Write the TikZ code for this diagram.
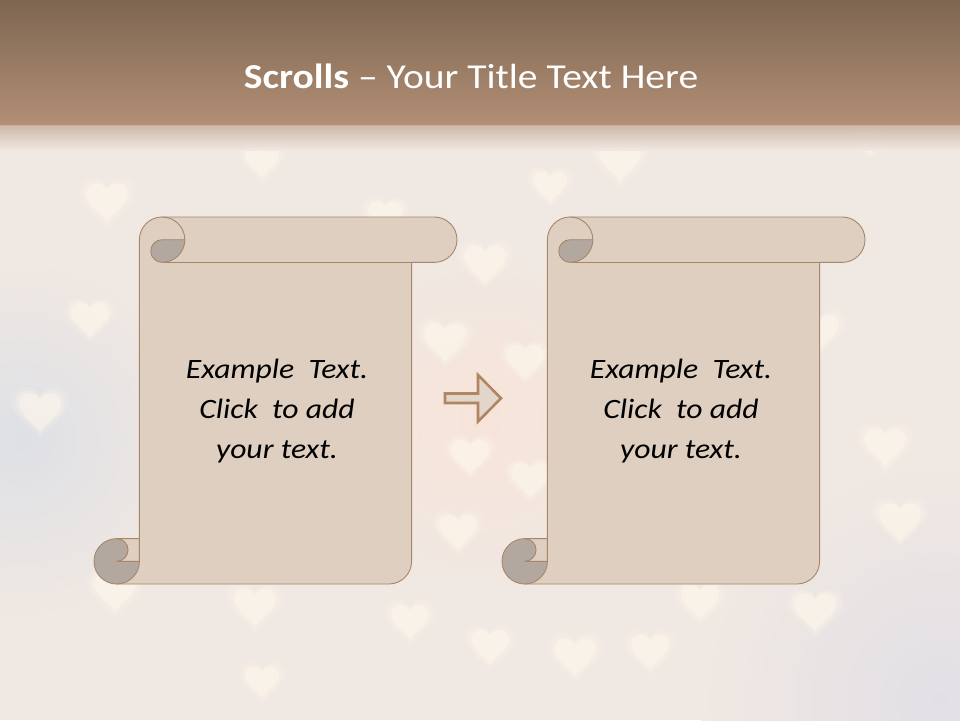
\documentclass[tikz,border=0pt]{standalone}
\usepackage{fontspec}
\setmainfont{Carlito}[FakeStretch=1.13]
\usepackage{tikz}
\definecolor{barTop}{RGB}{126,102,82}
\definecolor{barBottom}{RGB}{178,143,117}
\definecolor{backdrop}{RGB}{240,232,226}
\definecolor{heartGlow}{RGB}{255,249,236}
\definecolor{scrollFill}{RGB}{222,207,192}
\definecolor{scrollCurl}{RGB}{178,168,160}
\definecolor{scrollLine}{RGB}{168,134,104}
\definecolor{arrowLine}{RGB}{176,134,98}
\definecolor{arrowFill}{RGB}{226,213,201}
\tikzset{
    heart/.style={fill=heartGlow, draw=none},
    scrollbody/.style={fill=scrollFill},
    scrollcurl/.style={fill=scrollCurl},
    scrolledge/.style={draw=scrollLine, line width=0.9pt, line join=round},
    scrolltext/.style={align=center, font=\fontsize{28}{40}\selectfont\itshape, text=black, inner sep=0pt},
    titletext/.style={font=\fontsize{35}{42}\selectfont, text=white, inner sep=0pt},
    blockarrow/.style={draw=arrowLine, fill=arrowFill, line width=2.6pt, line join=miter}
}
\newcommand{\scrollshape}[1]{%
    \begin{scope}[shift={(#1)}]
        \fill[scrollbody] (22.7,367) arc[start angle=90, delta angle=-90, radius=22.7] -- (22.7,344.3)
            arc[start angle=90, delta angle=-180, radius=11.35] -- (45.4,321.6) -- (45.4,22.7)
            arc[start angle=180, delta angle=90, radius=22.7] -- (340.3,0)
            arc[start angle=270, delta angle=180, radius=22.7] -- (317.6,45.4) -- (317.6,344.3)
            arc[start angle=0, delta angle=90, radius=22.7] -- cycle;
        \fill[scrollcurl] (90.8,22.7) arc[start angle=0, delta angle=90, radius=22.7]
            arc[start angle=90, delta angle=180, radius=11.35] -- cycle;
        \fill[scrollcurl] (45.4,344.3) arc[start angle=0, delta angle=270, radius=22.7]
            arc[start angle=270, delta angle=180, radius=11.35] -- cycle;
        \draw[scrolledge] (45.4,321.6) -- (45.4,22.7) arc[start angle=180, delta angle=90, radius=22.7]
            -- (340.3,0) arc[start angle=270, delta angle=180, radius=22.7] -- (317.6,45.4) -- (317.6,344.3)
            arc[start angle=0, delta angle=90, radius=22.7] -- (22.7,367)
            arc[start angle=90, delta angle=180, radius=22.7] -- cycle;
        \draw[scrolledge] (68.1,0) arc[start angle=270, delta angle=180, radius=22.7]
            arc[start angle=90, delta angle=180, radius=11.35] -- (90.8,22.7);
        \draw[scrolledge] (317.6,45.4) -- (68.1,45.4);
        \draw[scrolledge] (22.7,321.6) arc[start angle=270, delta angle=180, radius=11.35] -- (45.4,344.3);
        \draw[scrolledge] (22.7,367) arc[start angle=90, delta angle=-90, radius=22.7] -- (45.4,321.6);
    \end{scope}}

\begin{document}
\begin{tikzpicture}[x=1pt, y=-1pt]
        \useasboundingbox (0,0) rectangle (960,720);
        \fill[backdrop] (0,0) rectangle (960,720);
        \shade[inner color={rgb,255:red,222;green,224;blue,230}, outer color=backdrop] (20,440) circle (180);
        \shade[inner color={rgb,255:red,247;green,228;blue,217}, outer color=backdrop] (480,420) circle (170);
        \shade[inner color={rgb,255:red,226;green,224;blue,230}, outer color=backdrop] (940,700) circle (240);

        \foreach \hx/\hy/\hs in {107/200/22, 262/160/18, 90/318/20, 40/410/22, 485/262/22, 445/340/22,
                470/455/20, 458/530/20, 385/215/18, 115/590/22, 255/605/22, 410/620/20, 490/645/20,
                262/680/18, 575/655/22, 650/650/20, 700/600/20, 815/610/22, 885/445/22, 900/520/22,
                620/160/22, 550/185/18, 870/140/15, 530/478/20, 525/360/20, 820/330/20} {
            \begin{scope}[shift={(\hx,\hy)}]
                \foreach \k/\o in {1.3/0.15, 1.12/0.25, 0.95/0.45} {
                    \fill[heart, opacity=\o, scale=\hs*\k] (0,1) .. controls (-0.3,0.6) and (-1,0.2) .. (-1,-0.3)
                        .. controls (-1,-0.8) and (-0.3,-1) .. (0,-0.5) .. controls (0.3,-1) and (1,-0.8) .. (1,-0.3)
                        .. controls (1,0.2) and (0.3,0.6) .. (0,1) -- cycle;
                }
            \end{scope}
        }

        \shade[top color=barTop, bottom color=barBottom] (0,0) rectangle (960,125);
        \shade[top color=barBottom!60!backdrop, bottom color=backdrop, opacity=0.9] (0,125) rectangle (960,150);
        \node[titletext, anchor=base] (title) at (471,88) {\textbf{Scrolls} – Your Title Text Here};

        \coordinate (scrollA) at (94,217);
        \coordinate (scrollB) at (502,217);
        \scrollshape{scrollA}
        \scrollshape{scrollB}

        \node[scrolltext] (textA) at (277,411) {Example\ \ Text.\\Click\ \ to add\\your text.};
        \node[scrolltext] (textB) at (681,411) {Example\ \ Text.\\Click\ \ to add\\your text.};

        \draw[blockarrow] (445,393.5) -- (478,393.5) -- (478,375) -- (501,398.25) -- (478,421.5)
            -- (478,403) -- (445,403) -- cycle;
    \end{tikzpicture}
\end{document}
